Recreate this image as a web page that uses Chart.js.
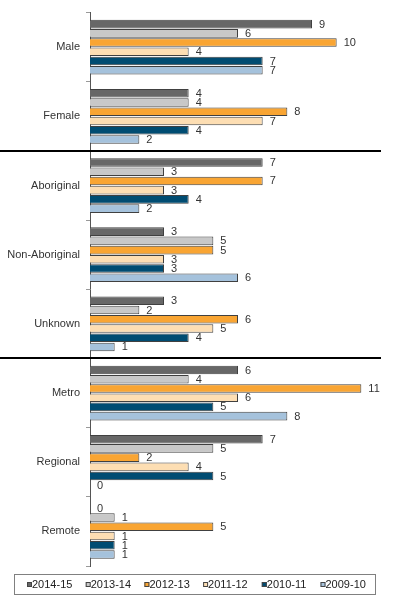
<!DOCTYPE html>
<html><head><meta charset="utf-8">
<script src="https://cdn.jsdelivr.net/npm/chart.js@4"></script>
<style>html,body{margin:0;padding:0;background:#fff}#wrap{width:397px;height:605px;position:relative}</style>
</head><body><div id="wrap"><canvas id="c" width="397" height="605"></canvas></div>
<script>
const categories = ['Male','Female','Aboriginal','Non-Aboriginal','Unknown','Metro','Regional','Remote'];
const seriesNames = ['2014-15','2013-14','2012-13','2011-12','2010-11','2009-10'];
const v2014_15 = [9,4,7,3,3,6,7,0];
const v2013_14 = [6,4,3,5,2,4,5,1];
const v2012_13 = [10,8,7,5,6,11,2,5];
const v2011_12 = [4,7,3,3,5,6,4,1];
const v2010_11 = [7,4,4,3,4,5,5,1];
const v2009_10 = [7,2,2,6,1,8,0,1];
const seriesValues = [v2014_15, v2013_14, v2012_13, v2011_12, v2010_11, v2009_10];
const seriesColors = ['#676767','#C8C8C8','#F9A533','#FDDEB3','#004C72','#A5C2DC'];
const groupBreaks = ['Aboriginal','Metro'];

const FONT = '11px "Liberation Sans", Arial, sans-serif';

const valueLabels = {
  id: 'valueLabels',
  afterDatasetsDraw(chart) {
    const ctx = chart.ctx;
    ctx.save();
    ctx.font = FONT;
    ctx.fillStyle = '#333';
    ctx.textAlign = 'left';
    ctx.textBaseline = 'middle';
    chart.data.datasets.forEach((ds, di) => {
      const meta = chart.getDatasetMeta(di);
      meta.data.forEach((el, i) => {
        ctx.fillText(String(ds.data[i]), el.x + 7, el.y + 0.5);
      });
    });
    ctx.restore();
  }
};

const separators = {
  id: 'separators',
  afterDraw(chart) {
    const ctx = chart.ctx;
    const y = chart.scales.y;
    const band = (y.bottom - y.top) / categories.length;
    ctx.save();
    ctx.strokeStyle = '#000';
    ctx.lineWidth = 2;
    groupBreaks.forEach(name => {
      const idx = categories.indexOf(name);
      const py = Math.round(y.getPixelForValue(idx) - band / 2);
      ctx.beginPath();
      ctx.moveTo(0, py);
      ctx.lineTo(381, py);
      ctx.stroke();
    });
    // legend
    ctx.lineWidth = 1;
    ctx.strokeStyle = '#808080';
    ctx.strokeRect(14.5, 574.5, 361, 20);
    ctx.font = FONT;
    ctx.textBaseline = 'middle';
    ctx.textAlign = 'left';
    let x = 27;
    const cy = 585;
    seriesNames.forEach((n, i) => {
      ctx.fillStyle = seriesColors[i];
      ctx.fillRect(x, cy - 3, 5, 5);
      ctx.strokeStyle = '#444';
      ctx.strokeRect(x + 0.5, cy - 2.5, 4, 4);
      ctx.fillStyle = '#222';
      ctx.fillText(n, x + 5, cy);
      x += 58.7;
    });
    ctx.restore();
  }
};

new Chart(document.getElementById('c'), {
  type: 'bar',
  data: {
    labels: categories,
    datasets: seriesNames.map((n, i) => ({
      label: n,
      data: seriesValues[i],
      backgroundColor: seriesColors[i],
      borderColor: '#404040',
      borderWidth: 1,
      barPercentage: 0.93,
      categoryPercentage: 0.8
    }))
  },
  options: {
    indexAxis: 'y',
    responsive: false,
    animation: false,
    layout: { padding: { top: 12, right: 11, bottom: 39, left: 0 } },
    plugins: { legend: { display: false }, tooltip: { enabled: false } },
    scales: {
      x: { display: false, min: 0, max: 12 },
      y: {
        offset: true,
        afterFit(s) { s.width = 90; },
        grid: { display: true, drawOnChartArea: false, drawTicks: true, tickLength: 4, color: '#999', offset: true },
        border: { display: true, color: '#555' },
        ticks: { font: { family: '"Liberation Sans", Arial, sans-serif', size: 11 }, color: '#333', padding: 6 }
      }
    }
  },
  plugins: [valueLabels, separators]
});
</script></body></html>
